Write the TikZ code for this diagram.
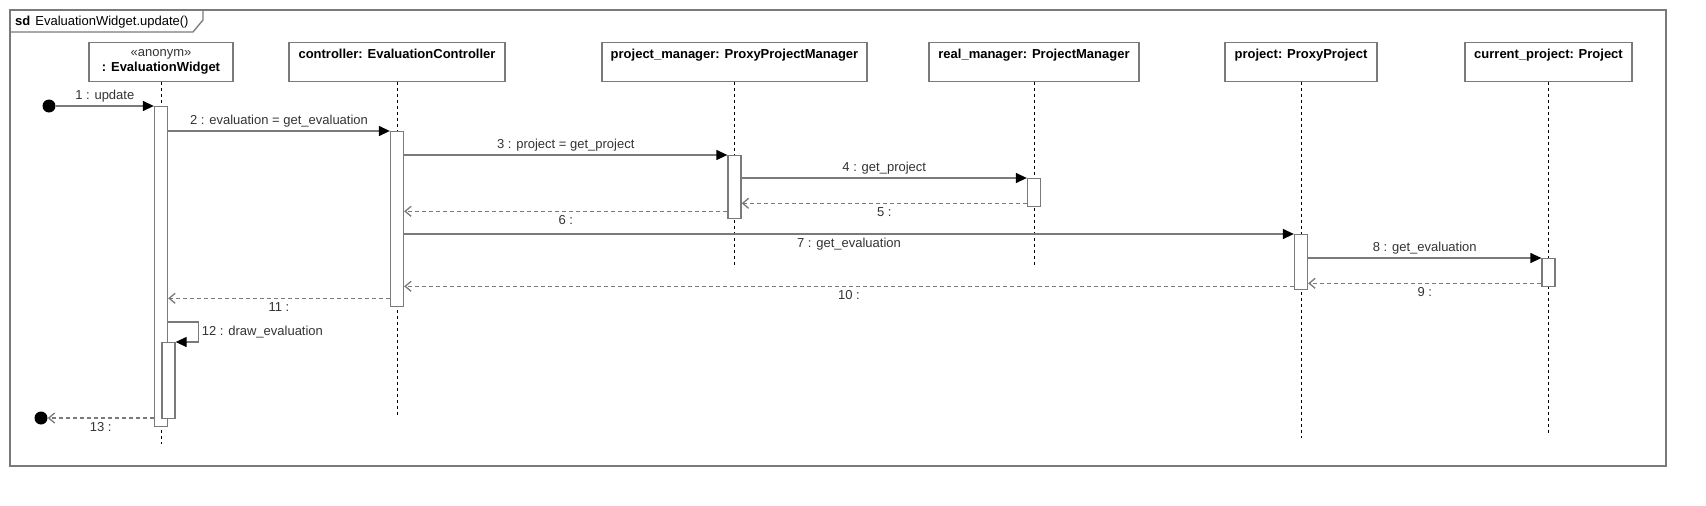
\documentclass[tikz,border=0pt]{standalone}
\usepackage{fontspec}
\setmainfont{Liberation Sans}
\usetikzlibrary{arrows.meta}

\definecolor{linegray}{HTML}{7A7A7A}
\definecolor{textgray}{HTML}{333333}

\tikzset{
  head/.style={draw=linegray, line width=1.3pt, anchor=north, minimum height=39pt, inner sep=4pt,
    text height=12pt, text depth=19pt, text=black, font=\fontsize{13}{15}\selectfont\bfseries},
  act/.style={draw=linegray, fill=white, line width=1.3pt, anchor=north, minimum width=13pt, inner sep=0pt},
  lifeline/.style={black, line width=0.7pt, dash pattern=on 3pt off 3pt},
  call/.style={draw=linegray, line width=1.3pt, -{Triangle[length=11pt,width=10pt,color=black]}},
  ret/.style={draw=linegray, line width=1.3pt, dash pattern=on 4pt off 3pt, -{Straight Barb[length=6pt,width=10pt]}},
  dot/.style={circle, fill=black, minimum size=13pt, inner sep=0pt},
  frame/.style={draw=linegray, line width=1.3pt}
}

\begin{document}
\begin{tikzpicture}[x=1pt, y=-1pt, font=\fontsize{13}{15}\selectfont, text=textgray]
  \useasboundingbox (0,0) rectangle (1706,506);

  % Frame
  \draw[frame] (10,10) rectangle (1666,466);
  \draw[frame] (10,32) -- (193,32) -- (203,20) -- (203,10);
  \node[anchor=base west, inner sep=0pt, text=black] (title) at (15,25) {\textbf{sd}\hspace{5pt}EvaluationWidget.update()};

  % Heads
  \node[head, align=center, text height=25pt, text depth=6pt, minimum width=144pt] (hw) at (161,42)
    {{\mdseries\color{textgray}«anonym»}\\: EvaluationWidget};
  \node[head, minimum width=216pt] (hc) at (397,42) {controller: EvaluationController};
  \node[head, minimum width=265pt] (hpm) at (734.5,42) {project\_manager: ProxyProjectManager};
  \node[head, minimum width=210pt] (hrm) at (1034,42) {real\_manager: ProjectManager};
  \node[head, minimum width=152pt] (hpr) at (1301,42) {project: ProxyProject};
  \node[head, minimum width=167pt] (hcp) at (1548.5,42) {current\_project: Project};

  % Lifelines
  \foreach \h/\e in {hw/444, hc/415, hpm/265, hrm/265, hpr/438, hcp/433}
    \draw[lifeline] (\h.south) -- (\h.south |- 0,\e);

  % Activations
  \node[act, minimum height=320pt] (w1) at (hw.south |- 0,106) {};
  \node[act, minimum height=76pt] (w2) at ([xshift=7.5pt]hw.south |- 0,342) {};
  \node[act, minimum height=175pt] (c1) at (hc.south |- 0,131) {};
  \node[act, minimum height=63pt] (pm1) at (hpm.south |- 0,155) {};
  \node[act, minimum height=28pt] (rm1) at (hrm.south |- 0,178) {};
  \node[act, minimum height=55pt] (pr1) at (hpr.south |- 0,234) {};
  \node[act, minimum height=28pt] (cp1) at (hcp.south |- 0,258) {};

  % Start and stop
  \node[dot] (start) at (49,106) {};
  \node[dot] (stop) at (41,418) {};

  % Calls
  \draw[call] (start) -- (start -| w1.west) node[midway, above] {1 : update};
  \draw[call] (w1.east |- c1.north) -- (c1.north west) node[midway, above] {2 : evaluation = get\_evaluation};
  \draw[call] (c1.east |- pm1.north) -- (pm1.north west) node[midway, above] {3 : project = get\_project};
  \draw[call] (pm1.east |- rm1.north) -- (rm1.north west) node[midway, above] {4 : get\_project};
  \draw[call] (c1.east |- pr1.north) -- (pr1.north west) node[midway, below] {7 : get\_evaluation};
  \draw[call] (pr1.east |- cp1.north) -- (cp1.north west) node[midway, above] {8 : get\_evaluation};
  \draw[call] (w1.east |- 0,322) -| ([xshift=22.5pt]w2.north east)
    node[right, pos=0.75, inner sep=3pt] {12 : draw\_evaluation} -- (w2.north east);

  % Returns
  \coordinate (r5) at ([yshift=4pt]rm1.south west);
  \coordinate (r6) at ([yshift=8pt]pm1.south west);
  \coordinate (r9) at ([yshift=4pt]cp1.south west);
  \coordinate (r10) at ([yshift=4pt]pr1.south west);
  \coordinate (r11) at ([yshift=9pt]c1.south west);
  \draw[ret] (r5) -- (r5 -| pm1.east) node[midway, below] {5 :};
  \draw[ret] (r6) -- (r6 -| c1.east) node[midway, below] {6 :};
  \draw[ret] (r9) -- (r9 -| pr1.east) node[midway, below] {9 :};
  \draw[ret] (r10) -- (r10 -| c1.east) node[midway, below] {10 :};
  \draw[ret] (r11) -- (r11 -| w1.east) node[midway, below] {11 :};
  \draw[ret] (stop -| w1.west) -- (stop) node[midway, below] {13 :};
\end{tikzpicture}
\end{document}
